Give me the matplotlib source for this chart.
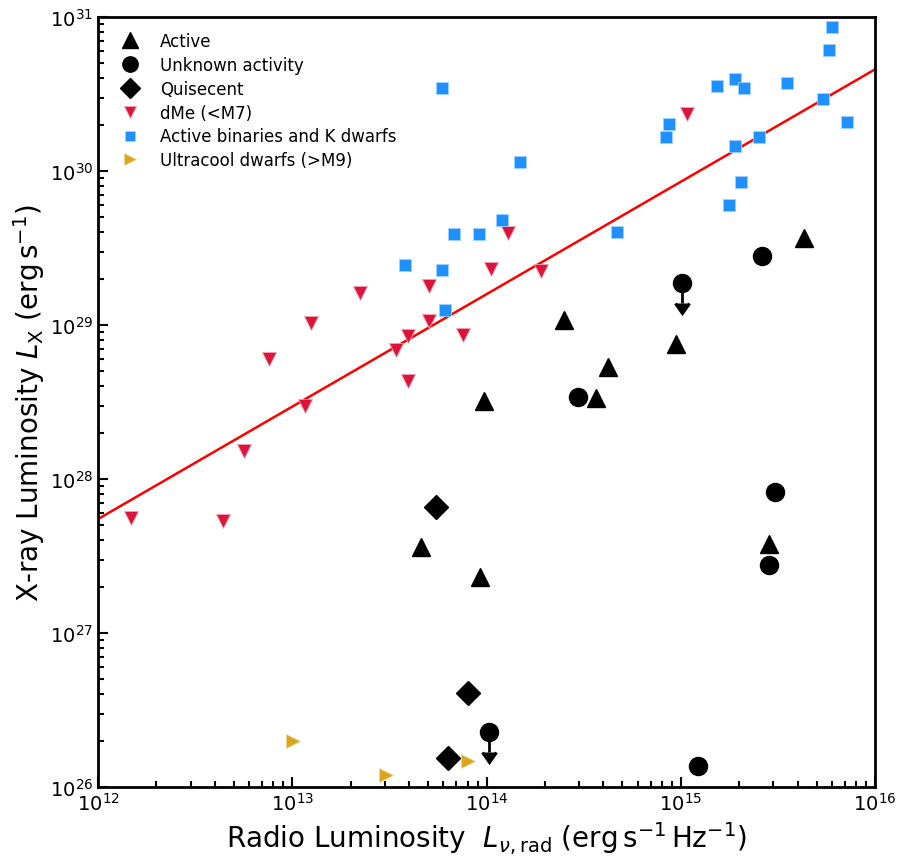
import numpy as np
import matplotlib
matplotlib.use("Agg")
import matplotlib.pyplot as plt

# Active (black triangles)
act_lr = [2.51e14, 9.73e13, 3.67e14, 4.23e14, 9.46e14, 4.31e15, 4.61e13, 9.29e13, 2.84e15]
act_lx = [1.07e29, 3.21e28, 3.36e28, 5.34e28, 7.5e28, 3.67e29, 3.62e27, 2.31e27, 3.78e27]

# Unknown activity (black circles)
unk_lr = [1.01e15, 2.62e15, 2.95e14, 3.07e15, 2.86e15, 1.03e14, 1.23e15]
unk_lx = [1.87e29, 2.79e29, 3.40e28, 8.24e27, 2.77e27, 2.28e26, 1.37e26]
unk_uplim = [True, False, False, False, False, True, False]

# Quiescent (black diamonds)
qui_lr = [5.51e13, 8.05e13, 6.31e13]
qui_lx = [6.58e27, 4.07e26, 1.54e26]

# dMe (<M7)
dme_lr = [1.08e15, 1.29e14, 1.05e14, 5.07e13, 2.24e13, 1.25e13, 5.07e13, 1.91e14, 3.96e13,
          7.6e13, 7.6e12, 3.43e13, 3.96e13, 1.17e13, 5.67e12, 1.47e12, 4.42e12]
dme_lx = [2.34e30, 3.96e29, 2.31e29, 1.79e29, 1.61e29, 1.03e29, 1.06e29, 2.24e29, 8.5e28,
          8.6e28, 6.0e28, 6.9e28, 4.33e28, 2.98e28, 1.52e28, 5.58e27, 5.34e27]

# Active binaries and K dwarfs
bin_lr = [5.92e13, 6.0e15, 5.79e15, 1.54e15, 1.90e15, 2.12e15, 3.52e15, 8.7e14, 8.4e14, 5.4e15,
          7.2e15, 1.49e14, 1.90e15, 2.53e15, 2.04e15, 1.77e15, 1.20e14, 4.7e14, 6.8e13, 9.1e13,
          3.82e13, 5.9e13, 6.1e13]
bin_lx = [3.47e30, 8.6e30, 6.1e30, 3.56e30, 3.96e30, 3.46e30, 3.73e30, 2.02e30, 1.66e30, 2.94e30,
          2.08e30, 1.14e30, 1.45e30, 1.66e30, 8.5e29, 6.0e29, 4.8e29, 4.02e29, 3.9e29, 3.9e29,
          2.45e29, 2.28e29, 1.25e29]

# Ultracool dwarfs (>M9)
ucd_lr = [1.01e13, 3.05e13, 8.05e13]
ucd_lx = [1.99e26, 1.20e26, 1.48e26]

# Gudel-Benz style relation: log Lx = slope * log Lr + icpt
gb_slope = 0.73
gb_icpt = 18.98

fig = plt.figure(figsize=(9.08, 8.62), dpi=100)
ax = fig.add_axes([98 / 908, 74 / 862, 777 / 908, 770 / 862])

ax.plot(act_lr, act_lx, '^', color='k', ms=13, ls='none', label='Active', zorder=4)
ax.plot(unk_lr, unk_lx, 'o', color='k', ms=13, ls='none', label='Unknown activity', zorder=4)
ax.plot(qui_lr, qui_lx, 'D', color='k', ms=12, ls='none', label='Quisecent', zorder=4)
ax.plot(dme_lr, dme_lx, 'v', color='crimson', mec='#f5a0b0', mew=0.6, ms=9.5, ls='none',
        label='dMe (<M7)', zorder=3)
ax.plot(bin_lr, bin_lx, 's', color='dodgerblue', mec='#9fd0ff', mew=0.6, ms=9, ls='none',
        label='Active binaries and K dwarfs', zorder=3)
ax.plot(ucd_lr, ucd_lx, '>', color='goldenrod', mec='#f0d890', mew=0.6, ms=9.5, ls='none',
        label='Ultracool dwarfs (>M9)', zorder=3)

# upper limits
ul_x = np.array(unk_lr)[unk_uplim]
ul_y = np.array(unk_lx)[unk_uplim]
ax.errorbar(ul_x, ul_y, yerr=ul_y * (1 - 10 ** -0.13), uplims=True, fmt='none',
            color='k', ecolor='k', elinewidth=2, capsize=5, capthick=2.2, zorder=4)

lr = np.array([1e12, 1e16])
ax.plot(lr, 10 ** (gb_slope * np.log10(lr) + gb_icpt), color='red', lw=1.8, zorder=2)

ax.set_xscale('log')
ax.set_yscale('log')
ax.set_xlim(1e12, 1e16)
ax.set_ylim(1e26, 1e31)

ax.set_xlabel(r'Radio Luminosity  $L_{\nu,\rm rad}$ (erg$\,$s$^{-1}\,$Hz$^{-1}$)', fontsize=20)
ax.set_ylabel(r'X-ray Luminosity $L_{\rm X}$ (erg$\,$s$^{-1}$)', fontsize=20, labelpad=2)

ax.tick_params(which='both', direction='in', top=False, right=False, labelsize=14, width=1.5)
ax.tick_params(which='major', length=7)
ax.tick_params(which='minor', length=4)
for sp in ax.spines.values():
    sp.set_linewidth(2)

ax.legend(loc='upper left', frameon=False, fontsize=12, markerscale=0.85, labelspacing=0.35)

fig.savefig('out.png', dpi=100)
